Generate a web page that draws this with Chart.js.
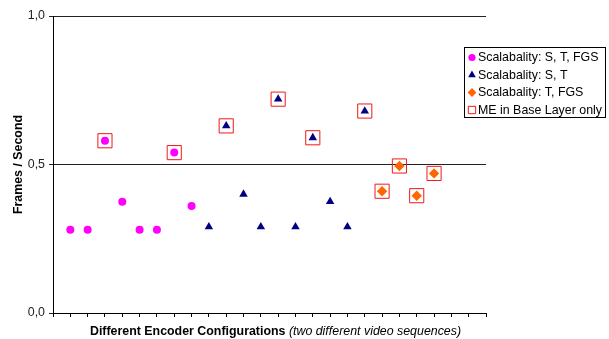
<!DOCTYPE html>
<html>
<head>
<meta charset="utf-8">
<script src="https://cdn.jsdelivr.net/npm/chart.js@4"></script>
<style>
  body { margin: 0; background: #fff; }
</style>
</head>
<body>
<canvas id="fpsChart" width="609" height="339"></canvas>
<script>
// Frames per second for each encoder configuration
const stFgs = [0.28, 0.28, 0.58, 0.375, 0.28, 0.28, 0.54, 0.36];            // configs 1-8
const st = [0.29, 0.63, 0.40, 0.29, 0.72, 0.29, 0.59, 0.375, 0.29, 0.68];   // configs 9-18
const tFgs = [0.41, 0.495, 0.395, 0.47];                                    // configs 19-22
const meBaseOnly = [3, 7, 10, 13, 15, 18, 19, 20, 21, 22];                  // configs with ME in base layer only
const yTickLabels = ["0,0", "0,5", "1,0"];
const seriesLabels = ["Scalabality: S, T, FGS", "Scalabality: S, T", "Scalabality: T, FGS", "ME in Base Layer only"];
const xTitleBold = "Different Encoder Configurations";
const xTitleItalic = "(two different video sequences)";

const FONT = "Arial, 'Liberation Sans', sans-serif";
const FS = 12.4;

//Turn the series into points, numbering configs one after the other
const stFgsPts = stFgs.map((v, i) => ({x: i + 1, y: v}));
const stPts = st.map((v, i) => ({x: stFgs.length + i + 1, y: v}));
const tFgsPts = tFgs.map((v, i) => ({x: stFgs.length + st.length + i + 1, y: v}));
const allPts = [...stFgsPts, ...stPts, ...tFgsPts];
const mePts = meBaseOnly.map(n => allPts.find(p => p.x === n));

//Legend drawn in a bordered box at the right
const legendBox = {
    id: 'legendBox',
    afterDraw(chart) {
        const ctx = chart.ctx;
        const left = 464.5, top = 47.5, w = 141, h = 70;
        ctx.save();
        ctx.strokeStyle = '#000';
        ctx.lineWidth = 1;
        ctx.strokeRect(left, top, w, h);
        ctx.font = FS + "px " + FONT;
        ctx.textBaseline = 'middle';
        chart.data.datasets.forEach((ds, i) => {
            const y = 57.5 + i * 17.5;
            ctx.fillStyle = ds.backgroundColor;
            ctx.strokeStyle = ds.borderColor;
            ctx.lineWidth = 1;
            Chart.helpers.drawPoint(ctx, {
                pointStyle: ds.pointStyle,
                radius: ds.legendRadius,
                rotation: 0,
                borderWidth: ds.borderWidth
            }, 472, y);
            ctx.fillStyle = '#000';
            ctx.fillText(ds.label, 478, y + 0.5);
        });
        ctx.restore();
    }
};

//X axis title with a bold and an italic part
const xTitle = {
    id: 'xTitle',
    afterDraw(chart) {
        const ctx = chart.ctx;
        const area = chart.chartArea;
        ctx.save();
        ctx.textBaseline = 'middle';
        ctx.fillStyle = '#000';
        ctx.font = "bold " + FS + "px " + FONT;
        const w1 = ctx.measureText(xTitleBold + " ").width;
        ctx.font = "italic " + FS + "px " + FONT;
        const w2 = ctx.measureText(xTitleItalic).width;
        const start = (area.left + area.right) / 2 + 6 - (w1 + w2) / 2;
        ctx.font = "bold " + FS + "px " + FONT;
        ctx.fillText(xTitleBold, start, 332);
        ctx.font = "italic " + FS + "px " + FONT;
        ctx.fillText(xTitleItalic, start + w1, 332);
        ctx.restore();
    }
};

const ctx = document.getElementById('fpsChart').getContext('2d');
const fpsChart = new Chart(ctx, {
    type: 'scatter',
    data: {
        datasets: [
            {label: seriesLabels[0], data: stFgsPts, pointStyle: 'circle', pointRadius: 4, legendRadius: 3.6,
             backgroundColor: '#ff00ff', borderColor: '#ff00ff', borderWidth: 0},
            {label: seriesLabels[1], data: stPts, pointStyle: 'triangle', pointRadius: 4.9, legendRadius: 4.4,
             backgroundColor: '#000080', borderColor: '#000080', borderWidth: 0},
            {label: seriesLabels[2], data: tFgsPts, pointStyle: 'rectRot', pointRadius: 5.2, legendRadius: 4.4,
             backgroundColor: '#ff6600', borderColor: '#ff6600', borderWidth: 0},
            {label: seriesLabels[3], data: mePts, pointStyle: 'rect', pointRadius: 10, legendRadius: 5.2,
             backgroundColor: 'rgba(0,0,0,0)', borderColor: '#f01818', borderWidth: 1}
        ]
    },
    options: {
        responsive: false,
        animation: false,
        devicePixelRatio: 1,
        layout: {padding: {top: 16, right: 123, left: 0, bottom: 0}},
        plugins: {
            legend: {display: false},
            tooltip: {enabled: false}
        },
        scales: {
            x: {
                type: 'linear',
                min: 0,
                max: 25,
                afterFit: s => { s.height = 26; },
                ticks: {display: false, stepSize: 1, autoSkip: false, maxTicksLimit: 40},
                grid: {drawOnChartArea: false, drawTicks: true, tickLength: 4, color: '#000'},
                border: {color: '#000'}
            },
            y: {
                min: 0,
                max: 1,
                afterFit: s => { s.width = 53; },
                ticks: {
                    stepSize: 0.5,
                    padding: 4,
                    color: '#222',
                    font: {family: FONT, size: FS},
                    callback: (v, i) => yTickLabels[i]
                },
                grid: {color: '#222', tickLength: 4},
                border: {color: '#000'},
                title: {
                    display: true,
                    text: 'Frames / Second',
                    color: '#000',
                    font: {family: FONT, size: FS, weight: 'bold'},
                    padding: {top: 11, bottom: 0}
                }
            }
        }
    },
    plugins: [legendBox, xTitle]
});
</script>
</body>
</html>
